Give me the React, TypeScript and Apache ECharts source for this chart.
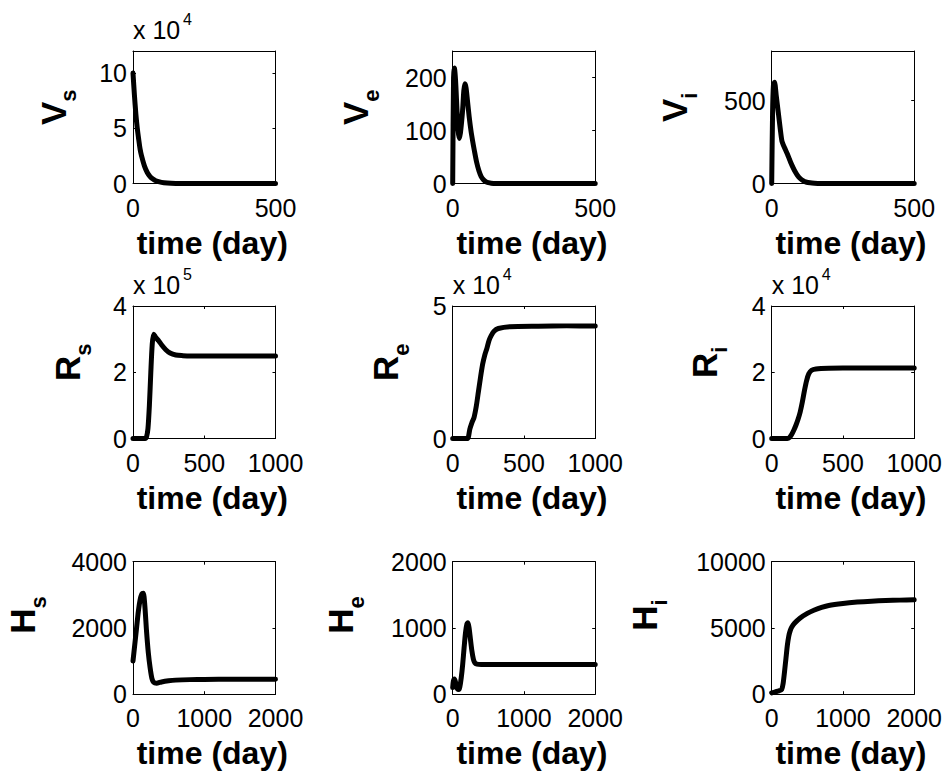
import React, { useEffect, useRef } from "react";
import * as echarts from "echarts";

// ---------------- data ----------------
// V_s
const vsT = [0, 5, 10, 15, 20, 25, 30, 40, 50, 60, 70, 80, 100, 120, 150, 200, 300, 400, 500];
const vsV = [100000, 80000, 63000, 50000, 40000, 31000, 25000, 16000, 10000, 6300, 4000, 2500, 1000, 400, 100, 0, 0, 0, 0];
// V_e
const veT = [0, 3, 6, 10, 15, 19, 23, 27, 31, 35, 39, 43, 47, 52, 58, 64, 70, 76, 84, 92, 100, 108, 116, 125, 135, 150, 200, 300, 400, 500];
const veV = [0, 200, 218, 195, 140, 100, 85, 95, 115, 140, 175, 188, 180, 155, 125, 100, 80, 62, 40, 24, 13, 7, 3.5, 1.5, 0.5, 0, 0, 0, 0, 0];
// V_i
const viT = [0, 3, 6, 10, 16, 23, 30, 36, 42, 48, 55, 62, 68, 75, 82, 90, 100, 110, 120, 135, 150, 175, 200, 300, 400, 500];
const viV = [0, 420, 590, 612, 530, 430, 330, 255, 228, 205, 178, 148, 122, 96, 72, 50, 30, 17, 9, 4, 2, 0.5, 0, 0, 0, 0];
// R_s
const rsT = [0, 50, 85, 95, 105, 115, 125, 135, 145, 160, 180, 200, 230, 260, 300, 350, 400, 500, 600, 700, 800, 900, 1000];
const rsV = [0, 0, 0, 5000, 30000, 100000, 200000, 285000, 315000, 305000, 295000, 283000, 268000, 258000, 252000, 250000, 249000, 249000, 249000, 249000, 249000, 249000, 249000];
// R_e
const reT = [0, 100, 110, 120, 135, 150, 165, 180, 195, 210, 225, 240, 255, 270, 290, 320, 400, 600, 800, 1000];
const reV = [0, 0, 500, 3500, 6000, 8000, 12000, 17500, 23000, 28000, 31500, 34000, 37000, 38800, 40500, 41500, 42200, 42400, 42500, 42500];
// R_i
const riT = [0, 110, 125, 140, 155, 170, 185, 200, 215, 230, 245, 260, 280, 310, 400, 600, 800, 1000];
const riV = [0, 0, 300, 1200, 2500, 4000, 5800, 8000, 11000, 14500, 17500, 19500, 20600, 21000, 21200, 21300, 21300, 21300];
// H_s
const hsT = [0, 25, 50, 75, 100, 125, 145, 165, 190, 215, 240, 265, 290, 330, 400, 500, 600, 800, 1000, 1400, 2000];
const hsV = [1000, 1500, 2000, 2500, 2850, 3030, 3050, 2700, 1900, 1250, 800, 480, 360, 330, 370, 405, 425, 440, 445, 450, 452];
// H_e
const heT = [0, 10, 25, 40, 55, 70, 85, 100, 120, 140, 160, 180, 200, 215, 230, 250, 270, 290, 310, 340, 400, 600, 1000, 1500, 2000];
const heV = [100, 200, 230, 180, 110, 75, 70, 110, 250, 450, 700, 930, 1060, 1080, 1000, 820, 650, 530, 475, 455, 450, 450, 450, 450, 450];
// H_i
const hiT = [0, 50, 100, 140, 160, 180, 200, 220, 240, 260, 280, 320, 400, 500, 600, 700, 800, 1000, 1200, 1400, 1600, 1800, 2000];
const hiV = [100, 180, 250, 350, 800, 1700, 2700, 3700, 4400, 4800, 5050, 5350, 5750, 6100, 6350, 6550, 6700, 6850, 6950, 7020, 7070, 7100, 7120];

// axis ranges
const xMax = [500, 1000, 2000];
const xStep = [500, 500, 1000];
const yMax = [120000, 250, 800, 400000, 50000, 40000, 4000, 2000, 10000];
const yStep = [50000, 100, 500, 200000, 50000, 20000, 2000, 1000, 5000];
const yExp = [4, 0, 0, 5, 4, 4, 0, 0, 0];
const letters = ["V", "V", "V", "R", "R", "R", "H", "H", "H"];
const subs = ["s", "e", "i", "s", "e", "i", "s", "e", "i"];
const xTitle = "time (day)";

const times = [vsT, veT, viT, rsT, reT, riT, hsT, heT, hiT];
const values = [vsV, veV, viV, rsV, reV, riV, hsV, heV, hiV];

// ---------------- layout ----------------
const FONT = "'Liberation Sans', Arial, Helvetica, sans-serif";
const COL_LEFT = [133, 452.7, 771.7];
const ROW_TOP = [51, 306, 561.7];
const GW = 142.5;
const GH = 132.5;
const NAME_GAP = [62.5, 79.5, 80, 48, 49.5, 50, 93, 94.5, 110];
const NAME_SHIFT = [10, 10, 10, 10, 10, 10, 13, 13, 13];
const TICK_FS = 25;

function buildOption() {
  const grid: any[] = [];
  const xAxis: any[] = [];
  const yAxis: any[] = [];
  const series: any[] = [];
  const graphic: any[] = [];
  const line = { lineStyle: { color: "#000", width: 1 } };
  const tick = { inside: true, length: 3, lineStyle: { color: "#000", width: 1 } };

  for (let i = 0; i < 9; i++) {
    const col = i % 3;
    const row = Math.floor(i / 3);
    const left = COL_LEFT[col];
    const top = ROW_TOP[row];
    grid.push({ left, top, width: GW, height: GH });

    const xBase = {
      gridIndex: i,
      type: "value",
      min: 0,
      max: xMax[row],
      interval: xStep[row],
      splitLine: { show: false },
      axisLine: { show: true, onZero: false, ...line },
      axisTick: tick,
    };
    xAxis.push({
      ...xBase,
      position: "bottom",
      axisLabel: { fontSize: TICK_FS, color: "#000", fontFamily: FONT, margin: 11.5, formatter: (v: number) => String(v) },
      name: xTitle,
      nameLocation: "middle",
      nameGap: 43,
      nameTextStyle: {
        fontSize: 32,
        fontWeight: "bold",
        color: "#000",
        fontFamily: FONT,
        padding: [0, 0, 0, 16],
      },
    });
    xAxis.push({ ...xBase, position: "top", axisLabel: { show: false } });

    const scale = Math.pow(10, yExp[i]);
    const step = yStep[i];
    const yBase = {
      gridIndex: i,
      type: "value",
      min: 0,
      max: yMax[i],
      interval: step,
      splitLine: { show: false },
      axisLine: { show: true, onZero: false, ...line },
      axisTick: tick,
    };
    yAxis.push({
      ...yBase,
      position: "left",
      axisLabel: {
        fontSize: TICK_FS,
        color: "#000",
        fontFamily: FONT,
        margin: 6,
        formatter: (v: number) => (Math.abs(v % step) < 1e-9 ? String(v / scale) : ""),
      },
      name: `{m|${letters[i]}}{s|${subs[i]}}`,
      nameLocation: "middle",
      nameRotate: 90,
      nameGap: NAME_GAP[i],
      nameTextStyle: {
        padding: [0, 0, 0, NAME_SHIFT[i] * 2],
        rich: {
          m: { fontSize: 35, fontWeight: "bold", fontFamily: FONT, color: "#000", lineHeight: 35, verticalAlign: "top" },
          s: { fontSize: 22, fontWeight: "bold", fontFamily: FONT, color: "#000", lineHeight: 22, verticalAlign: "top", padding: [22, 0, 0, 0] },
        },
      },
    });
    yAxis.push({ ...yBase, position: "right", axisLabel: { show: false } });

    series.push({
      type: "line",
      xAxisIndex: 2 * i,
      yAxisIndex: 2 * i,
      data: times[i].map((t, k) => [t, values[i][k]]),
      showSymbol: false,
      symbol: "none",
      smooth: 0.25,
      silent: true,
      lineStyle: { color: "#000", width: 5, cap: "round", join: "round" },
    });

    if (yExp[i] > 0) {
      const baseY = top - 12.7;
      graphic.push({
        type: "text",
        x: left,
        y: baseY - 0.3465 * TICK_FS,
        style: { text: "x 10", fontSize: TICK_FS, fontFamily: FONT, fill: "#000", verticalAlign: "middle", align: "left" },
      });
      graphic.push({
        type: "text",
        x: left + 50,
        y: baseY - 13.3 - 0.3465 * 16,
        style: { text: String(yExp[i]), fontSize: 16, fontFamily: FONT, fill: "#000", verticalAlign: "middle", align: "left" },
      });
    }
  }

  return {
    animation: false,
    backgroundColor: "#fff",
    grid,
    xAxis,
    yAxis,
    series,
    graphic,
  };
}

export default function App() {
  const ref = useRef<HTMLDivElement>(null);
  useEffect(() => {
    if (!ref.current) return;
    const chart = echarts.init(ref.current, undefined, { renderer: "svg" });
    chart.setOption(buildOption() as any);
    return () => chart.dispose();
  }, []);
  return (
    <div
      ref={ref}
      style={{ position: "fixed", left: 0, top: 0, width: 948, height: 774, background: "#fff" }}
    />
  );
}
